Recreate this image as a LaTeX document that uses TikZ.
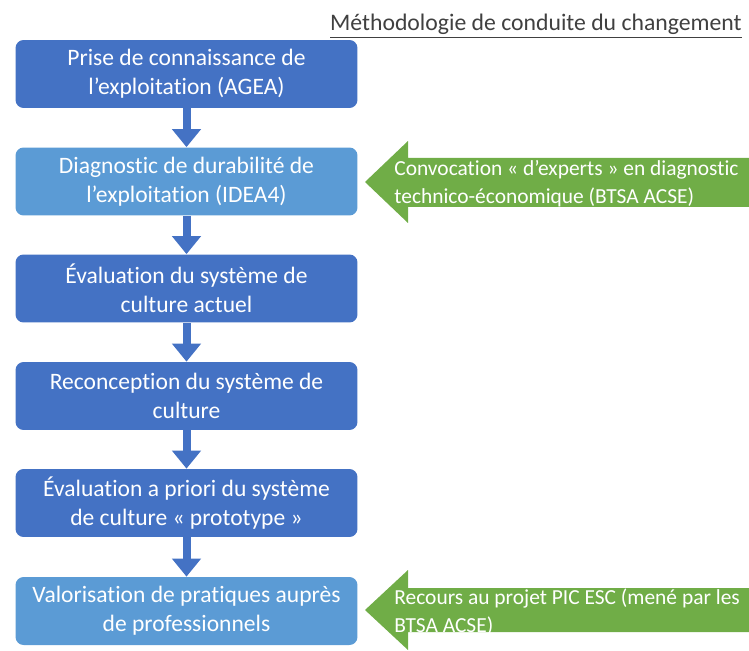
\documentclass[tikz,border=0pt]{standalone}
\usepackage{fontspec}
\setmainfont{Carlito}[Ligatures=NoCommon]
\usetikzlibrary{arrows.meta}
\definecolor{darkblue}{HTML}{4472C4}
\definecolor{lightblue}{HTML}{5B9BD5}
\definecolor{leafgreen}{HTML}{70AD47}
\definecolor{titlegray}{HTML}{404040}

\begin{document}
\begin{tikzpicture}[x=0.02cm, y=-0.02cm,
    stage/.style={rectangle, rounded corners=0.16cm, fill=darkblue, text=white, align=center,
                  minimum width=6.84cm, minimum height=1.36cm, inner sep=0pt,
                  font=\fontsize{13.4pt}{16.5pt}\selectfont},
    lightstage/.style={stage, fill=lightblue},
    flow/.style={darkblue, line width=0.16cm, -{Triangle[width=0.56cm,length=0.36cm]}},
    hint/.style={text=white, align=left, anchor=west, inner sep=0pt,
                 font=\fontsize{12.2pt}{15.9pt}\selectfont}]

        \useasboundingbox (0,0) rectangle (749,651);

        \node[anchor=base east, text=titlegray, inner sep=0pt, font=\fontsize{13.5pt}{16pt}\selectfont]
            (title) at (742, 31) {\underline{Méthodologie de conduite du changement}};

        \node[stage]      (s1) at (186.5, 74)  {Prise de connaissance de\\l’exploitation (AGEA)};
        \node[lightstage] (s2) at (186.5, 181.5) {Diagnostic de durabilité de\\l’exploitation (IDEA4)};
        \node[stage]      (s3) at (186.5, 288.5) {Évaluation du système de\\culture actuel};
        \node[stage]      (s4) at (186.5, 396) {Reconception du système de\\culture};
        \node[stage]      (s5) at (186.5, 503) {Évaluation a priori du système\\de culture « prototype »};
        \node[lightstage] (s6) at (186.5, 611) {Valorisation de pratiques auprès\\de professionnels};

        \draw[flow] (s1) -- (s2);
        \draw[flow] (s2) -- (s3);
        \draw[flow] (s3) -- (s4);
        \draw[flow] (s4) -- (s5);
        \draw[flow] (s5) -- (s6);

        % green input arrows
        \fill[leafgreen] (365, 182) -- (408, 141) -- (408, 158) -- (750, 158)
            -- (750, 207) -- (408, 207) -- (408, 223) -- cycle;
        \node[hint] (h1) at (394, 184) {Convocation « d’experts » en diagnostic\\technico-économique (BTSA ACSE)};

        \fill[leafgreen] (365, 610) -- (408, 570) -- (408, 588) -- (750, 588)
            -- (750, 632) -- (408, 632) -- (408, 650) -- cycle;
        \node[hint] (h2) at (394, 612) {Recours au projet PIC ESC (mené par les\\BTSA ACSE)};

    \end{tikzpicture}
\end{document}
